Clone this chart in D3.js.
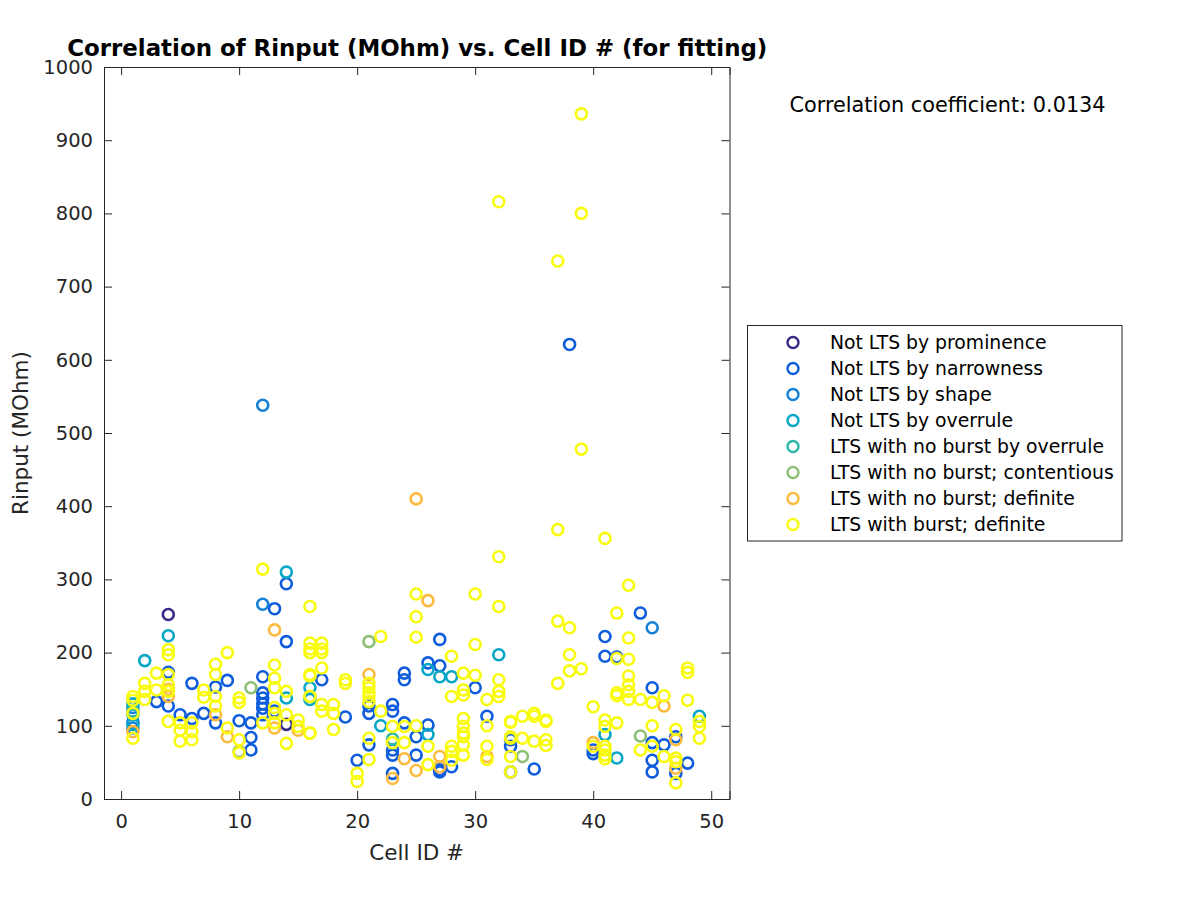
<!DOCTYPE html>
<html><head><meta charset="utf-8">
<script src="https://cdn.jsdelivr.net/npm/d3@7"></script>
<style>body{margin:0;background:#fff}</style>
</head><body><svg id="c" width="1200" height="900"></svg>
<script>
// ---------- data ----------
const categories = ["Not LTS by prominence","Not LTS by narrowness","Not LTS by shape","Not LTS by overrule",
  "LTS with no burst by overrule","LTS with no burst; contentious","LTS with no burst; definite","LTS with burst; definite"];
const xTicks = [0,10,20,30,40,50];
const yTicks = [0,100,200,300,400,500,600,700,800,900,1000];
const correlationText = "Correlation coefficient: 0.0134";

// [cell ID, Rinput (MOhm)]
const prominence = [[4,252],[14,102]];
const narrowness = [[14,294],[13,260],[14,215],[4,173],[6,158],[9,162],[12,167],[8,153],[12,145],[12,138],[12,130],
  [3,133],[4,127],[12,124],[7,117],[12,115],[5,115],[6,110],[8,104],[10,107],[11,104],[1,105],[11,84],[11,67],[13,120],
  [27,218],[26,186],[27,182],[17,163],[24,172],[24,163],[30,152],[19,112],[21,127],[21,117],[23,129],[23,120],[24,104],
  [26,101],[25,85],[31,113],[33,81],[21,74],[20,53],[23,67],[23,60],[25,60],[27,37],[28,44],[33,37],[23,35],[27,40],
  [44,254],[41,222],[41,195],[42,194],[45,152],[47,85],[33,72],[35,41],[40,67],[40,62],[45,77],[45,53],[45,37],[46,74],
  [47,35],[48,49],[38,621]];
const shape = [[12,538],[12,266],[45,234],[1,125],[1,97]];
const overrule = [[14,310],[4,223],[2,189],[14,138],[16,152],[16,136],[32,197],[26,177],[27,167],[28,167],[22,100],
  [26,88],[41,88],[42,56],[49,113],[1,115],[1,130],[1,102]];
const noBurstOverrule = [[1,120],[23,82]];
const contentious = [[11,152],[21,215],[34,58],[10,65],[44,86]];
const noBurstDefinite = [[25,410],[13,231],[26,271],[1,92],[8,115],[9,85],[13,97],[15,94],[4,150],[21,170],[24,55],
  [27,58],[27,44],[31,58],[23,28],[25,39],[40,77],[46,127],[47,81],[47,42],[4,140]];
const burst = [[12,314],[16,263],[4,204],[4,197],[9,200],[16,213],[16,205],[16,200],[8,184],[13,183],[3,172],[4,170],
  [2,158],[8,170],[13,165],[16,168],[4,156],[4,147],[7,149],[2,147],[3,149],[1,140],[13,152],[14,147],[16,140],[2,136],
  [7,139],[8,140],[10,138],[10,132],[8,127],[1,117],[13,117],[14,115],[4,106],[5,104],[6,104],[9,97],[12,104],[13,104],
  [15,108],[15,99],[16,90],[1,83],[5,94],[5,79],[6,92],[6,81],[10,81],[10,63],[14,76],[1,135],[13,125],
  [32,331],[25,280],[30,280],[32,263],[25,249],[22,222],[25,221],[30,211],[17,213],[17,205],[17,200],[28,195],[17,179],
  [16,170],[29,172],[30,169],[32,163],[21,158],[21,152],[21,145],[21,140],[21,133],[19,163],[19,158],[16,140],[29,149],
  [29,142],[28,140],[31,136],[32,147],[32,140],[17,129],[17,120],[18,129],[18,117],[22,120],[16,90],[18,95],[23,99],
  [24,99],[25,100],[29,110],[29,99],[29,90],[29,85],[31,100],[33,105],[33,85],[23,77],[24,77],[21,83],[21,54],[26,72],
  [28,72],[28,53],[29,74],[29,60],[31,72],[31,54],[33,58],[20,35],[20,24],[26,47],[28,65],
  [43,292],[42,254],[37,243],[38,234],[43,220],[38,197],[42,192],[43,191],[38,175],[39,178],[37,158],[48,179],[48,173],
  [43,168],[43,156],[42,145],[42,141],[43,147],[43,136],[44,136],[45,132],[46,141],[48,135],[40,126],[49,106],[49,99],
  [49,83],[33,106],[33,83],[34,113],[35,117],[35,113],[36,108],[36,106],[41,108],[41,99],[42,104],[45,100],[47,95],
  [34,83],[35,79],[36,81],[36,73],[33,37],[41,72],[41,67],[41,60],[41,55],[44,67],[45,72],[46,58],[47,56],[47,51],
  [47,22],[40,72],
  [39,936],[32,816],[39,800],[37,735],[39,478],[37,368],[41,356]];

const seriesData = [prominence,narrowness,shape,overrule,noBurstOverrule,contentious,noBurstDefinite,burst];
const seriesColors = ["#352a87","#0f5cdd","#1481d6","#06a7c6","#2bb8a6","#8dbf75","#fcbb3e","#f9fb0e"];

// ---------- layout ----------
const svg = d3.select("#c");
const font = "DejaVu Sans, Liberation Sans, sans-serif";
const ink = "#262626";
const L = 104, R = 729.5, T = 67, B = 799;
const x = d3.scaleLinear().domain([-1.45, 51.55]).range([L, R]);
const y = d3.scaleLinear().domain([0, 1000]).range([B, T]);

svg.append("rect").attr("width",1200).attr("height",900).attr("fill","#fff");

// points
seriesData.forEach((arr, i) => {
  svg.append("g").selectAll("circle").data(arr).join("circle")
    .attr("cx", d => x(d[0])).attr("cy", d => y(d[1])).attr("r", 5.5)
    .attr("fill", "none").attr("stroke", seriesColors[i]).attr("stroke-width", 2.6);
});

// axes
const tl = 8;
const fmt = d3.format("d");
const xb = svg.append("g").attr("transform",`translate(0,${B})`)
  .call(d3.axisBottom(x).tickValues(xTicks).tickSize(-tl).tickPadding(15).tickFormat(fmt));
const xt = svg.append("g").attr("transform",`translate(0,${T})`)
  .call(d3.axisTop(x).tickValues(xTicks).tickSize(-tl).tickFormat(""));
const yl = svg.append("g").attr("transform",`translate(${L},0)`)
  .call(d3.axisLeft(y).tickValues(yTicks).tickSize(-tl).tickPadding(11).tickFormat(fmt));
const yr = svg.append("g").attr("transform",`translate(${R},0)`)
  .call(d3.axisRight(y).tickValues(yTicks).tickSize(-tl).tickFormat(""));
[xb,xt,yl,yr].forEach(g => {
  g.selectAll("path.domain").attr("stroke", ink).attr("stroke-width",1);
  g.selectAll(".tick line").attr("stroke", ink).attr("stroke-width",1);
  g.selectAll(".tick text").attr("fill", ink).style("font-family", font).style("font-size","19.5px");
});

// labels
svg.append("text").attr("x",(L+R)/2).attr("y",860).attr("text-anchor","middle")
  .style("font-family",font).style("font-size","21.5px").attr("fill",ink).text("Cell ID #");
svg.append("text").attr("transform",`translate(28,${(T+B)/2}) rotate(-90)`).attr("text-anchor","middle")
  .style("font-family",font).style("font-size","21.5px").attr("fill",ink).text("Rinput (MOhm)");
svg.append("text").attr("x",(L+R)/2 + 0.5).attr("y",56).attr("text-anchor","middle")
  .style("font-family",font).style("font-size","22.9px").style("font-weight","bold").attr("fill","#000")
  .text("Correlation of Rinput (MOhm) vs. Cell ID # (for fitting)");
svg.append("text").attr("x",789.5).attr("y",111.5)
  .style("font-family",font).style("font-size","20.8px").attr("fill","#000").text(correlationText);

// legend
const lg = svg.append("g");
lg.append("rect").attr("x",747.5).attr("y",325.5).attr("width",374.5).attr("height",215.5)
  .attr("fill","#fff").attr("stroke",ink).attr("stroke-width",1);
categories.forEach((c,i) => {
  const cy = 342.5 + i*26;
  lg.append("circle").attr("cx",793).attr("cy",cy).attr("r",5.5).attr("fill","none")
    .attr("stroke",seriesColors[i]).attr("stroke-width",2.4);
  lg.append("text").attr("x",830).attr("y",cy).attr("dy","0.36em")
    .style("font-family",font).style("font-size","18.8px").attr("fill","#000").text(c);
});
</script></body></html>
